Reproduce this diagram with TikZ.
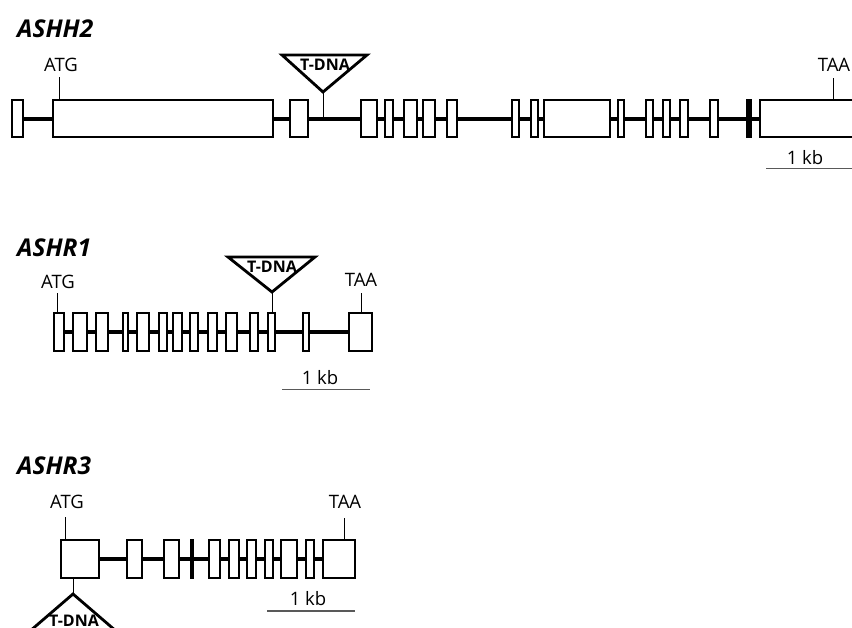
\documentclass[tikz,border=0pt]{standalone}
\usepackage{fontspec}
\setmainfont{Open Sans}
\begin{document}
\begin{tikzpicture}[x=1pt,y=-1pt,
  exonbox/.style={draw=black,line width=2.8pt,fill=white},
  blackbar/.style={fill=black},
  intron/.style={line width=4pt},
  tick/.style={line width=1pt},
  tdna/.style={draw=black,line width=2.8pt,fill=white,line join=miter},
  scalebar/.style={line width=1.2pt,draw=black!65},
  lbl/.style={font=\fontsize{18.5}{20}\selectfont,inner sep=0pt,anchor=base},
  tdnalbl/.style={font=\bfseries\fontsize{16}{18}\selectfont,inner sep=0pt,anchor=base},
  title/.style={font=\bfseries\itshape\fontsize{24.5}{26}\selectfont,inner sep=0pt,anchor=base west}]
\useasboundingbox (0,0) rectangle (852,627);
\clip (0,0) rectangle (852,627);

% ===== ASHH2 =====
\node[title] (t1) at (17,37) {ASHH2};
\draw[intron] (17,118.5) -- (762,118.5);
\foreach \a/\b in {12/23,53/273,290/308,361/377,385/393,404/417,423/435,447/457,512/519,531/538,544/610,618/624,646/653,663/670,680/688,710/718,760/860}
  \draw[exonbox] (\a,100) rectangle (\b,137);
\fill[blackbar] (745.5,98.6) rectangle (751.5,138.4);
\draw[tick] (59,100) -- (59,77);
\node[lbl] (atg1) at (61,71) {ATG};
\draw[tick] (833,100) -- (833,78);
\node[lbl] (taa1) at (834,71) {TAA};
\draw[tick] (323,118) -- (323,92);
\draw[tdna] (282,55) -- (367,55) -- (323,92) -- cycle;
\node[tdnalbl] (d1) at (325,70) {T-DNA};
\node[lbl] (kb1) at (805,164) {1 kb};
\draw[scalebar] (766,168.5) -- (860,168.5);

% ===== ASHR1 =====
\node[title] (t2) at (17,256) {ASHR1};
\draw[intron] (58,332) -- (360,332);
\foreach \a/\b in {54/64,73/87,96/108,123/128,137/149,159/167,173/182,190/198,208/217,226/237,250/258,268/275,303/309,349/372}
  \draw[exonbox] (\a,313) rectangle (\b,351);
\draw[tick] (57,313) -- (57,293);
\node[lbl] (atg2) at (58,288) {ATG};
\draw[tick] (361,313) -- (361,293);
\node[lbl] (taa2) at (361,286) {TAA};
\draw[tick] (272,313) -- (272,292);
\draw[tdna] (228,257) -- (315,257) -- (272,292) -- cycle;
\node[tdnalbl] (d2) at (272,272) {T-DNA};
\node[lbl] (kb2) at (320,384) {1 kb};
\draw[scalebar] (282,389.5) -- (370,389.5);

% ===== ASHR3 =====
\node[title] (t3) at (17,474) {ASHR3};
\draw[intron] (80,559) -- (340,559);
\foreach \a/\b in {61/99,127/142,164/179,209/220,229/239,247/256,265/273,281/297,306/314,323/355}
  \draw[exonbox] (\a,540) rectangle (\b,578);
\fill[blackbar] (189.5,538.6) rectangle (194,579.4);
\draw[tick] (65,540) -- (65,517);
\node[lbl] (atg3) at (67,508) {ATG};
\draw[tick] (344,540) -- (344,518);
\node[lbl] (taa3) at (345,508) {TAA};
\draw[tick] (73,578) -- (73,594);
\draw[tdna] (73,594) -- (30,631) -- (116,631) -- cycle;
\node[tdnalbl] (d3) at (74,626) {T-DNA};
\node[lbl] (kb3) at (308,605) {1 kb};
\draw[scalebar] (267,611) -- (355,611);
\end{tikzpicture}
\end{document}
